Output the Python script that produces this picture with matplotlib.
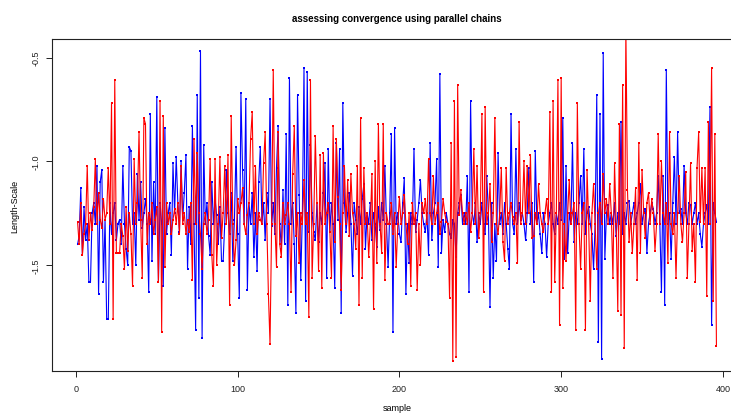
import numpy as np
import matplotlib
matplotlib.use("Agg")
import matplotlib.pyplot as plt

plt.rcParams['font.family'] = ['Liberation Sans', 'DejaVu Sans']

title = "assessing convergence using parallel chains"
x_label = "sample"
y_label = "Length-Scale"
x_ticks = [0, 100, 200, 300, 400]
y_ticks = [-1.5, -1.0, -0.5]
y_tick_labels = ["-1.5", "-1.0", "-0.5"]

chain_blue = [
    -1.40, -1.36, -1.13, -1.45, -1.22, -1.38, -1.30, -1.58, -1.58, -1.25,
    -1.20, -1.30, -1.02, -1.64, -1.10, -1.04, -1.58, -1.28, -1.76, -1.76,
    -1.20, -1.35, -1.25, -1.20, -1.38, -1.30, -1.28, -1.40, -1.02, -1.30,
    -1.42, -1.50, -0.93, -0.95, -1.30, -1.25, -1.50, -1.06, -1.28, -1.10,
    -1.32, -1.25, -1.18, -1.30, -1.63, -0.77, -1.48, -1.10, -1.35, -0.69,
    -1.58, -1.20, -1.30, -1.60, -0.84, -1.35, -1.25, -1.20, -1.45, -1.01,
    -1.25, -0.98, -1.20, -1.34, -1.00, -1.28, -1.15, -0.97, -1.52, -1.22,
    -1.40, -0.83, -1.30, -1.81, -0.68, -1.66, -0.47, -1.85, -0.92, -1.30,
    -1.20, -1.36, -1.45, -1.10, -1.30, -1.18, -1.26, -1.40, -1.22, -1.48,
    -1.48, -1.30, -1.04, -1.25, -1.35, -1.15, -1.48, -1.28, -0.93, -1.35,
    -1.66, -0.67, -1.04, -1.30, -0.70, -1.62, -1.20, -1.30, -1.15, -1.46,
    -1.25, -1.53, -1.10, -0.93, -1.30, -1.20, -1.38, -1.15, -1.25, -0.70,
    -1.31, -1.20, -1.35, -1.03, -0.83, -1.30, -1.42, -1.14, -1.40, -0.87,
    -1.69, -0.60, -1.30, -1.20, -1.40, -1.73, -0.68, -1.16, -1.57, -1.25,
    -0.55, -1.67, -0.57, -1.34, -0.92, -1.25, -1.34, -1.38, -1.20, -1.39,
    -1.25, -1.30, -1.15, -1.01, -1.56, -0.94, -1.34, -1.20, -1.30, -1.61,
    -0.91, -1.28, -0.94, -1.73, -0.72, -1.20, -1.34, -1.25, -1.15, -1.30,
    -1.55, -1.20, -1.28, -1.35, -1.22, -1.30, -1.18, -1.11, -1.42, -1.25,
    -1.30, -1.20, -1.38, -1.25, -1.30, -1.41, -1.22, -1.33, -1.20, -1.28,
    -1.02, -1.30, -1.51, -1.25, -0.87, -1.82, -0.84, -1.30, -1.25, -1.35,
    -1.39, -1.20, -1.08, -1.64, -1.30, -1.49, -1.25, -1.30, -0.94, -1.34,
    -1.28, -1.20, -1.09, -1.25, -1.30, -1.34, -1.25, -1.45, -0.91, -1.38,
    -1.25, -1.20, -0.99, -1.51, -0.58, -1.44, -1.28, -1.34, -1.25, -1.30,
    -1.35, -1.37, -1.28, -1.30, -1.46, -1.25, -1.20, -1.16, -1.30, -1.25,
    -1.30, -1.07, -1.63, -0.71, -1.25, -1.30, -1.20, -1.39, -1.25, -1.30,
    -1.20, -1.30, -1.35, -1.07, -1.25, -1.70, -1.20, -1.56, -1.30, -1.48,
    -0.96, -1.30, -1.25, -1.35, -1.20, -1.30, -1.42, -1.52, -0.77, -1.30,
    -1.35, -0.94, -1.30, -1.20, -1.28, -1.25, -1.30, -1.38, -1.25, -1.03,
    -1.30, -1.20, -1.58, -0.95, -1.30, -1.25, -1.35, -1.44, -1.25, -1.30,
    -1.46, -1.30, -1.25, -1.20, -1.30, -1.35, -1.25, -1.30, -1.20, -1.28,
    -0.79, -1.47, -1.02, -1.44, -1.25, -1.30, -0.91, -1.39, -1.25, -1.30,
    -1.20, -1.07, -1.30, -0.94, -1.35, -1.25, -1.22, -1.30, -1.35, -1.52,
    -1.30, -0.68, -1.87, -0.77, -1.95, -0.48, -1.47, -1.25, -1.21, -1.30,
    -1.25, -1.30, -1.20, -1.36, -1.25, -1.30, -0.81, -1.35, -1.25, -1.30,
    -1.20, -1.19, -1.30, -1.25, -1.20, -1.30, -1.25, -1.20, -1.11, -1.30,
    -1.25, -1.23, -1.44, -1.30, -1.25, -1.20, -1.23, -1.30, -1.25, -1.07,
    -1.30, -1.63, -1.07, -1.69, -0.56, -1.30, -1.25, -1.47, -1.20, -0.98,
    -1.30, -0.86, -1.25, -1.23, -1.30, -1.02, -1.25, -1.30, -1.20, -1.21,
    -1.30, -1.25, -1.20, -1.30, -1.25, -1.35, -1.41, -1.30, -1.25, -1.21,
    -1.30, -0.74, -1.79, -1.20, -1.25, -1.29,
]

chain_red = [
    -1.29, -1.40, -1.20, -1.45, -1.35, -1.30, -1.02, -1.38, -1.25, -1.33,
    -1.22, -0.99, -1.30, -1.15, -1.28, -1.32, -1.18, -1.28, -1.25, -1.03,
    -1.30, -0.72, -1.76, -0.61, -1.44, -1.44, -1.44, -1.30, -1.36, -1.52,
    -1.22, -1.43, -1.25, -1.35, -1.60, -0.99, -1.30, -1.20, -0.86, -1.28,
    -1.56, -0.79, -0.82, -1.40, -1.25, -1.30, -1.20, -1.35, -1.28, -1.22,
    -1.58, -0.71, -1.82, -0.78, -1.51, -1.20, -1.30, -1.25, -1.35, -1.28,
    -1.23, -1.30, -1.20, -1.35, -1.02, -1.30, -1.25, -1.35, -1.28, -1.34,
    -1.20, -1.57, -0.89, -1.30, -0.96, -1.25, -1.35, -1.52, -1.30, -1.25,
    -1.35, -1.28, -0.99, -1.45, -1.60, -0.99, -1.50, -1.30, -0.98, -1.37,
    -1.25, -1.02, -1.30, -0.97, -1.69, -0.78, -1.30, -1.50, -1.38, -1.18,
    -1.25, -1.20, -1.13, -1.30, -1.35, -1.26, -1.20, -0.89, -0.76, -1.30,
    -1.02, -1.35, -1.25, -1.28, -1.30, -1.01, -0.86, -1.30, -1.64, -1.88,
    -1.30, -0.56, -1.30, -1.51, -0.86, -1.40, -1.46, -1.20, -1.30, -1.26,
    -1.20, -1.30, -1.63, -1.06, -0.83, -1.36, -1.25, -1.49, -1.25, -1.30,
    -1.09, -1.30, -1.25, -1.75, -0.61, -1.56, -1.30, -0.88, -1.20, -1.53,
    -0.97, -1.61, -0.96, -1.30, -1.25, -1.20, -1.34, -1.56, -0.83, -1.39,
    -0.89, -1.17, -1.30, -1.62, -1.25, -1.02, -1.30, -1.09, -1.36, -1.06,
    -1.25, -1.30, -1.42, -1.02, -1.69, -0.79, -1.56, -1.03, -1.30, -1.25,
    -1.46, -1.30, -1.06, -1.71, -1.00, -1.49, -0.82, -1.30, -1.44, -0.82,
    -1.57, -1.25, -1.30, -1.30, -1.20, -1.35, -1.25, -1.51, -1.30, -1.17,
    -1.30, -1.25, -1.16, -1.30, -1.40, -1.25, -1.60, -1.20, -1.30, -1.25,
    -1.62, -1.30, -1.50, -1.20, -1.25, -1.18, -1.30, -0.99, -1.25, -1.30,
    -1.07, -1.30, -1.25, -1.20, -1.35, -1.29, -1.18, -1.25, -1.29, -1.30,
    -1.66, -0.91, -1.96, -0.71, -1.94, -0.63, -1.26, -1.14, -1.25, -1.30,
    -1.25, -1.30, -1.20, -1.34, -1.25, -0.94, -1.30, -1.02, -1.37, -1.25,
    -0.77, -1.63, -0.74, -1.30, -1.25, -1.11, -1.39, -1.25, -0.79, -1.30,
    -1.35, -1.25, -1.03, -1.39, -1.48, -1.03, -1.30, -1.25, -1.20, -1.27,
    -1.30, -1.25, -1.49, -0.81, -1.30, -1.25, -1.00, -1.30, -1.02, -1.25,
    -0.97, -1.37, -1.36, -1.25, -1.30, -1.11, -1.25, -1.30, -1.34, -1.25,
    -1.18, -1.30, -0.76, -1.63, -0.71, -1.58, -1.25, -0.61, -1.79, -0.60,
    -1.61, -1.30, -1.48, -1.25, -1.09, -1.30, -1.25, -1.20, -1.81, -0.72,
    -1.30, -1.52, -1.25, -1.20, -1.81, -1.04, -1.30, -1.67, -1.25, -1.11,
    -1.30, -1.52, -1.25, -1.20, -1.30, -1.06, -1.25, -1.18, -1.30, -1.11,
    -1.25, -1.56, -1.01, -1.30, -1.72, -0.82, -1.74, -0.63, -1.90, -0.36,
    -1.14, -1.39, -1.25, -1.44, -1.30, -1.13, -1.57, -0.91, -1.44, -1.04,
    -1.25, -1.37, -1.20, -1.15, -1.30, -1.18, -1.25, -1.43, -1.30, -0.87,
    -1.30, -1.00, -1.25, -1.30, -1.20, -1.49, -0.86, -1.30, -1.35, -1.25,
    -1.56, -1.25, -1.07, -1.30, -1.39, -1.25, -1.05, -1.56, -1.30, -1.01,
    -1.43, -1.30, -1.58, -1.03, -0.86, -1.29, -1.03, -1.30, -1.03, -1.65,
    -0.81, -1.30, -0.55, -1.67, -0.87, -1.89,
]

samples_blue = np.arange(1, len(chain_blue) + 1)
samples_red = np.arange(1, len(chain_red) + 1)

W, H = 731, 414
fig = plt.figure(figsize=(W / 100, H / 100), dpi=100)
left, right, top, bottom = 52, 742, 40, 372
ax = fig.add_axes([left / W, 1 - bottom / H, (right - left) / W, (bottom - top) / H])

lw = 0.8
ax.plot(samples_blue, chain_blue, color='#0000ff', lw=lw, marker='s', ms=1.5,
        mew=0, mfc='#0000ff')
ax.plot(samples_red, chain_red, color='#ff0000', lw=lw, marker='s', ms=1.5,
        mew=0, mfc='#ff0000')

# R-style 4% padding based on the first chain
xb = np.asarray(samples_blue, float)
yb = np.asarray(chain_blue, float)
xr = xb.max() - xb.min()
yr = yb.max() - yb.min()
ax.set_xlim(xb.min() - 0.04 * xr, xb.max() + 0.04 * xr)
ax.set_ylim(yb.min() - 0.04 * yr, yb.max() + 0.04 * yr)

ax.set_xticks(x_ticks)
ax.set_yticks(y_ticks)
ax.set_yticklabels(y_tick_labels)
ax.tick_params(axis='both', direction='out', length=4.3, width=0.7,
               labelsize=6.5, color='#222222', labelcolor='#222222')
ax.tick_params(axis='x', pad=5)
ax.tick_params(axis='y', pad=4, labelrotation=90)
for t in ax.get_yticklabels():
    t.set_va('center')
for s in ax.spines.values():
    s.set_linewidth(0.8)
    s.set_color('#222222')

ax.set_title(title, fontsize=7, fontweight='bold', pad=13)
ax.set_xlabel(x_label, fontsize=6.5)
ax.set_ylabel(y_label, fontsize=6.5)
ax.xaxis.set_label_coords(0.5, -0.095)
ax.yaxis.set_label_coords(-0.047, 0.5)

fig.savefig('out.png', dpi=100)
